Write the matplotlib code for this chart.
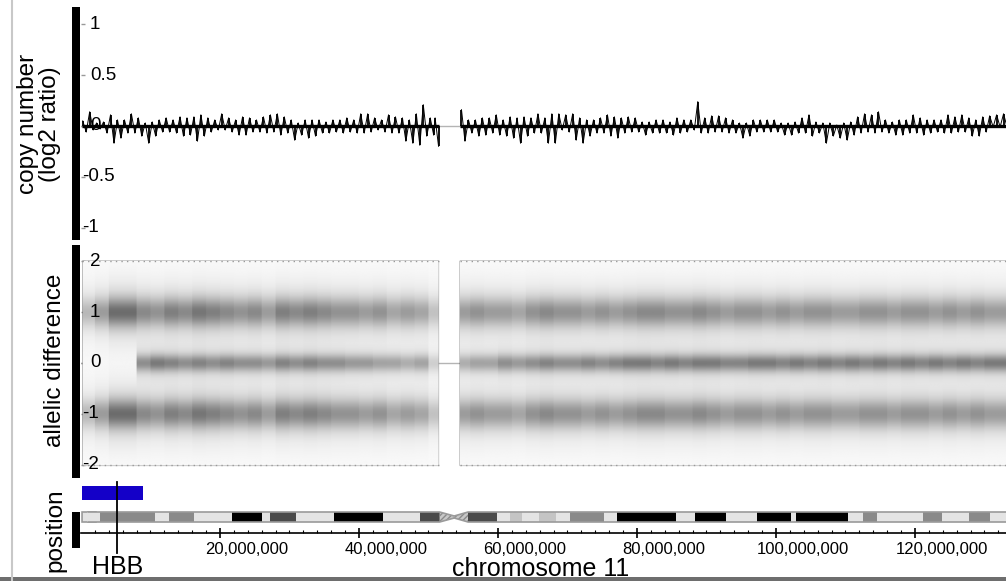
import numpy as np
import matplotlib
matplotlib.use('Agg')
import matplotlib.pyplot as plt
from matplotlib.patches import Rectangle, Polygon, FancyBboxPatch
from matplotlib.transforms import ScaledTranslation

plt.rcParams['font.family'] = ['Liberation Sans', 'DejaVu Sans']

# ---------------- data (positions in Mb) ----------------
# copy number trace: bin centres, upper and lower extent of log2 ratio
cn_pos = [0.5, 1.5, 2.5, 3.5, 4.5, 5.5, 6.5, 7.5, 8.5, 9.5, 10.5, 11.5, 12.5, 13.5, 14.5,
          15.5, 16.5, 17.5, 18.5, 19.5, 20.5, 21.5, 22.5, 23.5, 24.5, 25.5, 26.5, 27.5,
          28.5, 29.5, 30.5, 31.5, 32.5, 33.5, 34.5, 35.5, 36.5, 37.5, 38.5, 39.5, 40.5,
          41.5, 42.5, 43.5, 44.5, 45.5, 46.5, 47.5, 48.5, 49.5, 50.5, 51.2,
          55, 56, 57, 58, 59, 60, 61, 62, 63, 64, 65, 66, 67, 68, 69, 70, 71, 72, 73, 74,
          75, 76, 77, 78, 79, 80, 81, 82, 83, 84, 85, 86, 87, 88, 89, 90, 91, 92, 93, 94,
          95, 96, 97, 98, 99, 100, 101, 102, 103, 104, 105, 106, 107, 108, 109, 110, 111,
          112, 113, 114, 115, 116, 117, 118, 119, 120, 121, 122, 123, 124, 125, 126, 127,
          128, 129, 130, 131, 132, 133]
cn_upper = [0.05, 0.14, 0.03, 0.04, 0.11, 0.06, 0.06, 0.12, 0.08, 0.03, 0.04, 0.06, 0.08, 0.06,
            0.09, 0.08, 0.09, 0.11, 0.08, 0.06, 0.12, 0.08, 0.06, 0.09, 0.08, 0.06, 0.09, 0.11,
            0.12, 0.09, 0.06, 0.03, 0.06, 0.06, 0.06, 0.04, 0.06, 0.06, 0.08, 0.06, 0.12,
            0.12, 0.08, 0.06, 0.11, 0.09, 0.08, 0.06, 0.12, 0.21, 0.08, 0.08,
            0.16, 0.06, 0.06, 0.08, 0.08, 0.11, 0.06, 0.09, 0.08, 0.09, 0.08, 0.12, 0.08, 0.12,
            0.12, 0.11, 0.12, 0.08, 0.06, 0.06, 0.08, 0.11, 0.09, 0.08, 0.09, 0.08, 0.04, 0.04,
            0.06, 0.06, 0.04, 0.08, 0.06, 0.06, 0.24, 0.08, 0.10, 0.10, 0.08, 0.06, 0.03, 0.03,
            0.06, 0.06, 0.06, 0.06, 0.03, 0.03, 0.04, 0.08, 0.11, 0.04, 0.03, 0.03, 0.01, 0.03,
            0.04, 0.09, 0.12, 0.11, 0.14, 0.06, 0.04, 0.06, 0.06, 0.11, 0.08, 0.06, 0.06, 0.06,
            0.11, 0.09, 0.11, 0.08, 0.06, 0.09, 0.10, 0.11, 0.12]
cn_lower = [-0.06, -0.04, -0.03, -0.07, -0.17, -0.12, -0.07, -0.07, -0.10, -0.17, -0.10, -0.06,
            -0.06, -0.07, -0.10, -0.09, -0.15, -0.10, -0.06, -0.04, -0.04, -0.06, -0.09, -0.09,
            -0.06, -0.06, -0.07, -0.06, -0.09, -0.07, -0.14, -0.09, -0.12, -0.10, -0.07, -0.07,
            -0.06, -0.07, -0.06, -0.07, -0.07, -0.06, -0.04, -0.06, -0.07, -0.07, -0.15, -0.17,
            -0.19, -0.10, -0.09, -0.20,
            -0.15, -0.07, -0.10, -0.09, -0.07, -0.09, -0.10, -0.12, -0.17, -0.10, -0.07, -0.07,
            -0.17, -0.17, -0.04, -0.06, -0.14, -0.17, -0.10, -0.07, -0.07, -0.10, -0.12, -0.07,
            -0.06, -0.06, -0.09, -0.07, -0.07, -0.07, -0.09, -0.07, -0.06, -0.04, -0.07, -0.07,
            -0.06, -0.06, -0.07, -0.07, -0.12, -0.10, -0.06, -0.06, -0.06, -0.06, -0.09, -0.09,
            -0.07, -0.07, -0.10, -0.07, -0.17, -0.10, -0.12, -0.14, -0.09, -0.07, -0.06, -0.07,
            -0.06, -0.07, -0.09, -0.09, -0.07, -0.07, -0.09, -0.07, -0.06, -0.07, -0.07, -0.06,
            -0.06, -0.10, -0.10, -0.06, -0.01, -0.01, -0.01]

# allelic difference: relative density of the +/-1 clusters and the 0 cluster per 2 Mb bin
ad_bin_start = list(range(0, 134, 2))
hom_density = [0.35, 0.5, 0.75, 0.75, 0.6, 0.55, 0.65, 0.6, 0.7, 0.65, 0.6, 0.55, 0.6, 0.5,
               0.65, 0.6, 0.65, 0.6, 0.55, 0.55, 0.5, 0.55, 0.45, 0.5, 0.45, 0.3, 0.0, 0.5,
               0.55, 0.5, 0.5, 0.45, 0.55, 0.6, 0.55, 0.55, 0.5, 0.55, 0.5, 0.55, 0.6, 0.6,
               0.55, 0.55, 0.6, 0.55, 0.5, 0.55, 0.55, 0.5, 0.55, 0.5, 0.55, 0.55, 0.5, 0.5,
               0.55, 0.55, 0.5, 0.55, 0.55, 0.5, 0.55, 0.5, 0.55, 0.5, 0.5]
het_density = [0.0, 0.0, 0.0, 0.0, 0.5, 0.6, 0.55, 0.5, 0.55, 0.5, 0.55, 0.5, 0.5, 0.45,
               0.55, 0.5, 0.55, 0.5, 0.5, 0.45, 0.45, 0.4, 0.4, 0.35, 0.4, 0.2, 0.0, 0.35,
               0.4, 0.4, 0.5, 0.45, 0.5, 0.55, 0.5, 0.5, 0.55, 0.5, 0.55, 0.6, 0.6, 0.55,
               0.6, 0.55, 0.6, 0.6, 0.55, 0.55, 0.6, 0.6, 0.55, 0.6, 0.55, 0.6, 0.55, 0.6,
               0.55, 0.6, 0.55, 0.6, 0.55, 0.6, 0.55, 0.6, 0.55, 0.6, 0.6]
data_start, gap_start, gap_end, data_end = 0.2, 51.5, 54.5, 133.1

# LOH segment (blue bar) and HBB gene
loh_segment = (0.0, 8.8)
hbb_pos = 5.2

# chromosome 11 ideogram bands (start, end, stain)
band_start = [0, 2.8, 10.7, 12.7, 16.2, 21.7, 26.1, 27.2, 31.0, 36.4, 43.5, 48.8, 51.6, 53.7,
              55.7, 59.9, 61.7, 63.4, 65.9, 68.4, 70.4, 75.2, 77.1, 85.6, 88.3, 92.8, 97.2,
              102.1, 102.9, 110.4, 112.5, 114.5, 121.2, 123.9, 127.8, 130.8]
band_end = band_start[1:] + [135.0]
band_stain = ['gneg', 'gpos50', 'gneg', 'gpos50', 'gneg', 'gpos100', 'gneg', 'gpos75', 'gneg',
              'gpos100', 'gneg', 'gpos75', 'acen', 'acen', 'gpos75', 'gneg', 'gpos25', 'gneg',
              'gpos25', 'gneg', 'gpos50', 'gneg', 'gpos100', 'gneg', 'gpos100', 'gneg',
              'gpos100', 'gneg', 'gpos100', 'gneg', 'gpos50', 'gneg', 'gpos50', 'gneg',
              'gpos50', 'gneg']
x_ticks_mb = [20, 40, 60, 80, 100, 120]
x_tick_labels = ['20,000,000', '40,000,000', '60,000,000', '80,000,000', '100,000,000',
                 '120,000,000']
cn_ticks = [1, 0.5, 0, -0.5, -1]
cn_tick_labels = ['1', '0.5', '0', '-0.5', '-1']
ad_ticks = [2, 1, 0, -1, -2]
ad_tick_labels = ['2', '1', '0', '-1', '-2']

# ---------------- figure ----------------
W, H = 1006, 581
fig = plt.figure(figsize=(W / 100, H / 100), dpi=100)
MB = 1e6
XMAX = 133.1


def ax_px(x0, y0, x1, y1):
    return fig.add_axes([x0 / W, 1 - y1 / H, (x1 - x0) / W, (y1 - y0) / H])


def bar_px(x0, y0, x1, y1, color='black'):
    fig.add_artist(Rectangle((x0 / W, 1 - y1 / H), (x1 - x0) / W, (y1 - y0) / H,
                             transform=fig.transFigure, color=color, lw=0))


def inner_ylabels(ax, ticks, labels):
    tr = ax.get_yaxis_transform()
    for t, lab in zip(ticks, labels):
        off = 1 if lab.startswith('-') else 9
        ax.text(0, t, lab, transform=tr + ScaledTranslation(off / 100, 0, fig.dpi_scale_trans),
                ha='left', va='center', fontsize=13.5, color='black', zorder=6)


def style_panel(ax):
    for s in ax.spines.values():
        s.set_visible(False)
    ax.set_xlim(0, XMAX * MB)
    ax.set_xticks([])
    ax.tick_params(axis='y', direction='in', length=3, width=1, color='#999999',
                   labelleft=False, pad=0)


# frame
fig.add_artist(plt.Line2D([11.5 / W, 11.5 / W], [0, 1], transform=fig.transFigure,
                          color='#c8c8c8', lw=1.5))
bar_px(0, 577, W, 581, '#6e6e6e')

# ---- top: copy number ----
ax1 = ax_px(81, 7, W, 240)
style_panel(ax1)
ax1.set_ylim(-1.123, 1.172)
ax1.set_yticks(cn_ticks)
ax1.axhline(0, color='#b4b4b4', lw=1, zorder=0)
cp = np.array(cn_pos)
cu = np.array(cn_upper)
cl = np.array(cn_lower)
ax1.vlines((cp - 0.25) * MB, 0, cu, colors='black', lw=1.3, zorder=2)
ax1.vlines((cp + 0.25) * MB, cl, 0, colors='black', lw=1.3, zorder=2)
for a, b in [(data_start, gap_start), (gap_end, data_end)]:
    m = (cp >= a) & (cp <= b)
    zx = np.ravel(np.column_stack([cp[m] - 0.25, cp[m] + 0.25])) * MB
    zy = np.ravel(np.column_stack([cu[m], cl[m]]))
    ax1.plot(zx, zy, color='black', lw=0.7, zorder=2)
    ax1.plot([a * MB, b * MB], [0, 0], color='black', lw=2.4, zorder=2,
             solid_capstyle='butt')
inner_ylabels(ax1, cn_ticks, cn_tick_labels)
bar_px(72, 7, 80, 240)

# ---- middle: allelic difference ----
ax2 = ax_px(81, 245, W, 478)
style_panel(ax2)
ylo, yhi = -2.264, 2.323
ax2.set_ylim(ylo, yhi)
ax2.set_yticks(ad_ticks)
ax2.axhline(0, color='#b4b4b4', lw=1, zorder=1)
gx = np.arange(0, XMAX, 0.1) + 0.05
gy = np.arange(ylo, yhi, 0.01) + 0.005
bins = np.minimum((gx // 2).astype(int), len(ad_bin_start) - 1)
hd = np.array(hom_density)[bins]
td = np.array(het_density)[bins]
valid = (gx >= data_start) & ((gx < gap_start) | (gx > gap_end)) & (gx <= data_end)
Y = gy[:, None]
prof_hom = (np.exp(-0.5 * ((Y - 1) / 0.2) ** 2) + np.exp(-0.5 * ((Y + 1) / 0.2) ** 2)
            + 0.35 * np.exp(-0.5 * ((Y - 1) / 0.45) ** 2)
            + 0.35 * np.exp(-0.5 * ((Y + 1) / 0.45) ** 2))
prof_het = np.exp(-0.5 * (Y / 0.12) ** 2) + 0.25 * np.exp(-0.5 * (Y / 0.3) ** 2)
dens = 0.55 * hd[None, :] * prof_hom + 0.65 * td[None, :] * prof_het + 0.018
dens = np.where(np.abs(Y) <= 2.02, dens, 0)
dens = dens * valid[None, :]
ax2.imshow(np.ma.masked_less(dens, 0.005), extent=[0, XMAX * MB, ylo, yhi], origin='lower',
           aspect='auto', cmap='gray_r', vmin=0, vmax=1, interpolation='bilinear', zorder=2)
for a, b in [(data_start, gap_start), (gap_end, data_end)]:
    for yv in (2, -2):
        ax2.hlines(yv, a * MB, b * MB, colors='#9a9a9a', lw=1, linestyles=(0, (1, 3)), zorder=3)
inner_ylabels(ax2, ad_ticks, ad_tick_labels)
bar_px(72, 245, 80, 478)

# ---- bottom: position ----
ax3 = ax_px(81, 480, W, 533)
for s in ['top', 'right', 'left']:
    ax3.spines[s].set_visible(False)
ax3.spines['bottom'].set_linewidth(1.2)
ax3.set_xlim(0, XMAX * MB)
ax3.set_ylim(0, 53)
ax3.set_yticks([])
ax3.set_xticks([t * MB for t in x_ticks_mb])
ax3.set_xticklabels(x_tick_labels, fontsize=12)
ax3.set_xticks(np.arange(2, 134, 2) * MB, minor=True)
ax3.tick_params(axis='x', which='major', direction='inout', length=7, width=1.2, pad=3)
ax3.tick_params(axis='x', which='minor', direction='in', length=2.5, width=0.8)
for lab in ax3.get_xticklabels():
    lab.set_transform(lab.get_transform() + ScaledTranslation(0.27, 0, fig.dpi_scale_trans))

stain_col = {'gneg': '#e4e4e4', 'gpos25': '#c4c4c4', 'gpos50': '#8a8a8a', 'gpos75': '#4a4a4a',
             'gpos100': '#000000', 'acen': '#a8a8a8'}
y0, y1 = 11, 21
ym = (y0 + y1) / 2
for s, e, st in zip(band_start, band_end, band_stain):
    if st == 'acen':
        if s < 53:
            poly = [(s * MB, y0), (s * MB, y1), (e * MB, ym + 1), (e * MB, ym - 1)]
        else:
            poly = [(s * MB, ym - 1), (s * MB, ym + 1), (e * MB, y1), (e * MB, y0)]
        ax3.add_patch(Polygon(poly, closed=True, facecolor='#c8c8c8', edgecolor='#8a8a8a',
                              hatch='//////', lw=0.0))
    else:
        x0 = max(s, 0.6)
        ax3.add_patch(Rectangle((x0 * MB, y0), (e - x0) * MB, y1 - y0, facecolor=stain_col[st],
                                edgecolor='none'))
# rounded left end
ax3.add_patch(FancyBboxPatch((0.15 * MB, y0), 2.0 * MB, y1 - y0,
                             boxstyle='round,pad=0,rounding_size=0.7', mutation_aspect=1,
                             facecolor=stain_col['gneg'], edgecolor='#9a9a9a', lw=1.2))
ax3.add_patch(Rectangle((0.9 * MB, y0), 1.9 * MB, y1 - y0, facecolor=stain_col['gneg'],
                        edgecolor='none'))
# outline
ax3.plot([0.9 * MB, 51.6 * MB, 53.7 * MB, 55.7 * MB, XMAX * MB],
         [y1, y1, ym + 1, y1, y1], color='#9a9a9a', lw=1.2, solid_capstyle='butt')
ax3.plot([0.9 * MB, 51.6 * MB, 53.7 * MB, 55.7 * MB, XMAX * MB],
         [y0, y0, ym - 1, y0, y0], color='#9a9a9a', lw=1.2, solid_capstyle='butt')

# LOH bar
ax3.add_patch(Rectangle((loh_segment[0] * MB + 0.15 * MB, 33), (loh_segment[1] - loh_segment[0]) * MB,
                        14, facecolor='#1400c8', edgecolor='none'))
# HBB marker
ax3.plot([hbb_pos * MB, hbb_pos * MB], [51, -20], color='black', lw=1.3, clip_on=False, zorder=5)
ax3.text(hbb_pos * MB, -34, 'HBB', ha='center', va='center', fontsize=18, clip_on=False)
bar_px(72, 512, 80, 548)

# labels
fig.text(541 / W, 1 - 576 / H, 'chromosome 11', ha='center', va='baseline', fontsize=18)
fig.text(39 / W, 1 - 124 / H, 'copy number\n(log2 ratio)', ha='center', va='center',
         rotation=90, fontsize=17.5, linespacing=1.0)
fig.text(55 / W, 1 - 360 / H, 'allelic difference', ha='center', va='center', rotation=90,
         fontsize=17.5)
fig.text(55 / W, 1 - 530 / H, 'position', ha='center', va='center', rotation=90, fontsize=17.5)

fig.savefig('out.png', dpi=100)
